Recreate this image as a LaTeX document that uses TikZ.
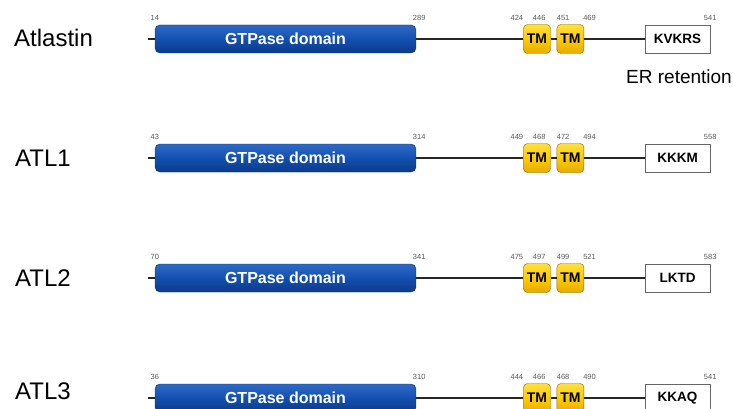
\documentclass[tikz,border=0pt]{standalone}
\usepackage{fontspec}
\setmainfont{Liberation Sans}
\usepackage{xcolor}
\usetikzlibrary{positioning}

\definecolor{gtplight}{HTML}{2E6AC4}
\definecolor{gtpmid}{HTML}{1450B0}
\definecolor{gtpdark}{HTML}{0B3A88}
\definecolor{tmlight}{HTML}{FFE040}
\definecolor{tmmid}{HTML}{FFCC00}
\definecolor{tmdark}{HTML}{E6AA00}

\begin{document}
\begin{tikzpicture}[
    x=1pt, y=-1pt,
    gtpase/.style={rectangle, draw=gtpdark!70!black, top color=gtplight, bottom color=gtpdark, middle color=gtpmid, rounded corners=5pt, minimum width=261pt, minimum height=28pt, inner sep=0pt, text=white, font=\fontsize{16}{18}\selectfont\bfseries},
    tm/.style={rectangle, draw=tmdark!60!black, top color=tmlight, bottom color=tmdark, middle color=tmmid, rounded corners=4pt, minimum width=27pt, minimum height=29pt, inner sep=0pt, font=\fontsize{14}{16}\selectfont\bfseries},
    tail/.style={rectangle, draw=black!60, fill=white, minimum width=65pt, minimum height=28pt, inner sep=0pt, font=\fontsize{13.5}{16}\selectfont\bfseries},
    num/.style={inner sep=0pt, text=black!65, font=\fontsize{7.5}{9}\selectfont},
    protname/.style={anchor=base west, inner sep=0pt, font=\fontsize{24}{28}\selectfont},
    backbone/.style={line width=1.4pt, black!85}
]
\path[use as bounding box, clip] (0,0) rectangle (733,409);

% Atlastin
\node[protname] (l1) at (14,47) {Atlastin};
\coordinate (s1) at (148,39);
\node[gtpase] (g1) at (285.5,39) {GTPase domain};
\node[tm] (t1) at (537,39) {TM};
\node[tm, right=6pt of t1] (t2) {TM};
\node[tail] (k1) at (677.5,39) {KVKRS};
\draw[backbone] (s1) -- (g1.west) (g1.east) -- (t1.west) (t1.east) -- (t2.west) (t2.east) -- (k1.west);
\node[num, above=4pt of g1.north west] {14};
\node[num, above=4pt of g1.north east, xshift=3pt] {289};
\node[num, above=4pt of t1.north west, anchor=south east] {424};
\node[num, above=4pt of t1.north east, anchor=south east, xshift=-5pt] {446};
\node[num, above=4pt of t2.north west, anchor=south west] {451};
\node[num, above=4pt of t2.north east, anchor=south west, xshift=-1pt] {469};
\node[num, above=4pt of k1.north east] {541};
\node[protname, font=\fontsize{19}{22}\selectfont] (er) at (626,84) {ER retention};

% ATL1
\node[protname] (l2) at (15,166) {ATL1};
\coordinate (s2) at (148,158);
\node[gtpase] (g2) at (285.5,158) {GTPase domain};
\node[tm] (t3) at (537,158) {TM};
\node[tm, right=6pt of t3] (t4) {TM};
\node[tail] (k2) at (677.5,158) {KKKM};
\draw[backbone] (s2) -- (g2.west) (g2.east) -- (t3.west) (t3.east) -- (t4.west) (t4.east) -- (k2.west);
\node[num, above=4pt of g2.north west] {43};
\node[num, above=4pt of g2.north east, xshift=3pt] {314};
\node[num, above=4pt of t3.north west, anchor=south east] {449};
\node[num, above=4pt of t3.north east, anchor=south east, xshift=-5pt] {468};
\node[num, above=4pt of t4.north west, anchor=south west] {472};
\node[num, above=4pt of t4.north east, anchor=south west, xshift=-1pt] {494};
\node[num, above=4pt of k2.north east] {558};

% ATL2
\node[protname] (l3) at (15,286) {ATL2};
\coordinate (s3) at (148,278);
\node[gtpase] (g3) at (285.5,278) {GTPase domain};
\node[tm] (t5) at (537,278) {TM};
\node[tm, right=6pt of t5] (t6) {TM};
\node[tail] (k3) at (677.5,278) {LKTD};
\draw[backbone] (s3) -- (g3.west) (g3.east) -- (t5.west) (t5.east) -- (t6.west) (t6.east) -- (k3.west);
\node[num, above=4pt of g3.north west] {70};
\node[num, above=4pt of g3.north east, xshift=3pt] {341};
\node[num, above=4pt of t5.north west, anchor=south east] {475};
\node[num, above=4pt of t5.north east, anchor=south east, xshift=-5pt] {497};
\node[num, above=4pt of t6.north west, anchor=south west] {499};
\node[num, above=4pt of t6.north east, anchor=south west, xshift=-1pt] {521};
\node[num, above=4pt of k3.north east] {583};

% ATL3
\node[protname] (l4) at (15,399) {ATL3};
\coordinate (s4) at (148,398);
\node[gtpase] (g4) at (285.5,398) {GTPase domain};
\node[tm] (t7) at (537,398) {TM};
\node[tm, right=6pt of t7] (t8) {TM};
\node[tail] (k4) at (677.5,398) {KKAQ};
\draw[backbone] (s4) -- (g4.west) (g4.east) -- (t7.west) (t7.east) -- (t8.west) (t8.east) -- (k4.west);
\node[num, above=4pt of g4.north west] {36};
\node[num, above=4pt of g4.north east, xshift=3pt] {310};
\node[num, above=4pt of t7.north west, anchor=south east] {444};
\node[num, above=4pt of t7.north east, anchor=south east, xshift=-5pt] {466};
\node[num, above=4pt of t8.north west, anchor=south west] {468};
\node[num, above=4pt of t8.north east, anchor=south west, xshift=-1pt] {490};
\node[num, above=4pt of k4.north east] {541};
\end{tikzpicture}
\end{document}
